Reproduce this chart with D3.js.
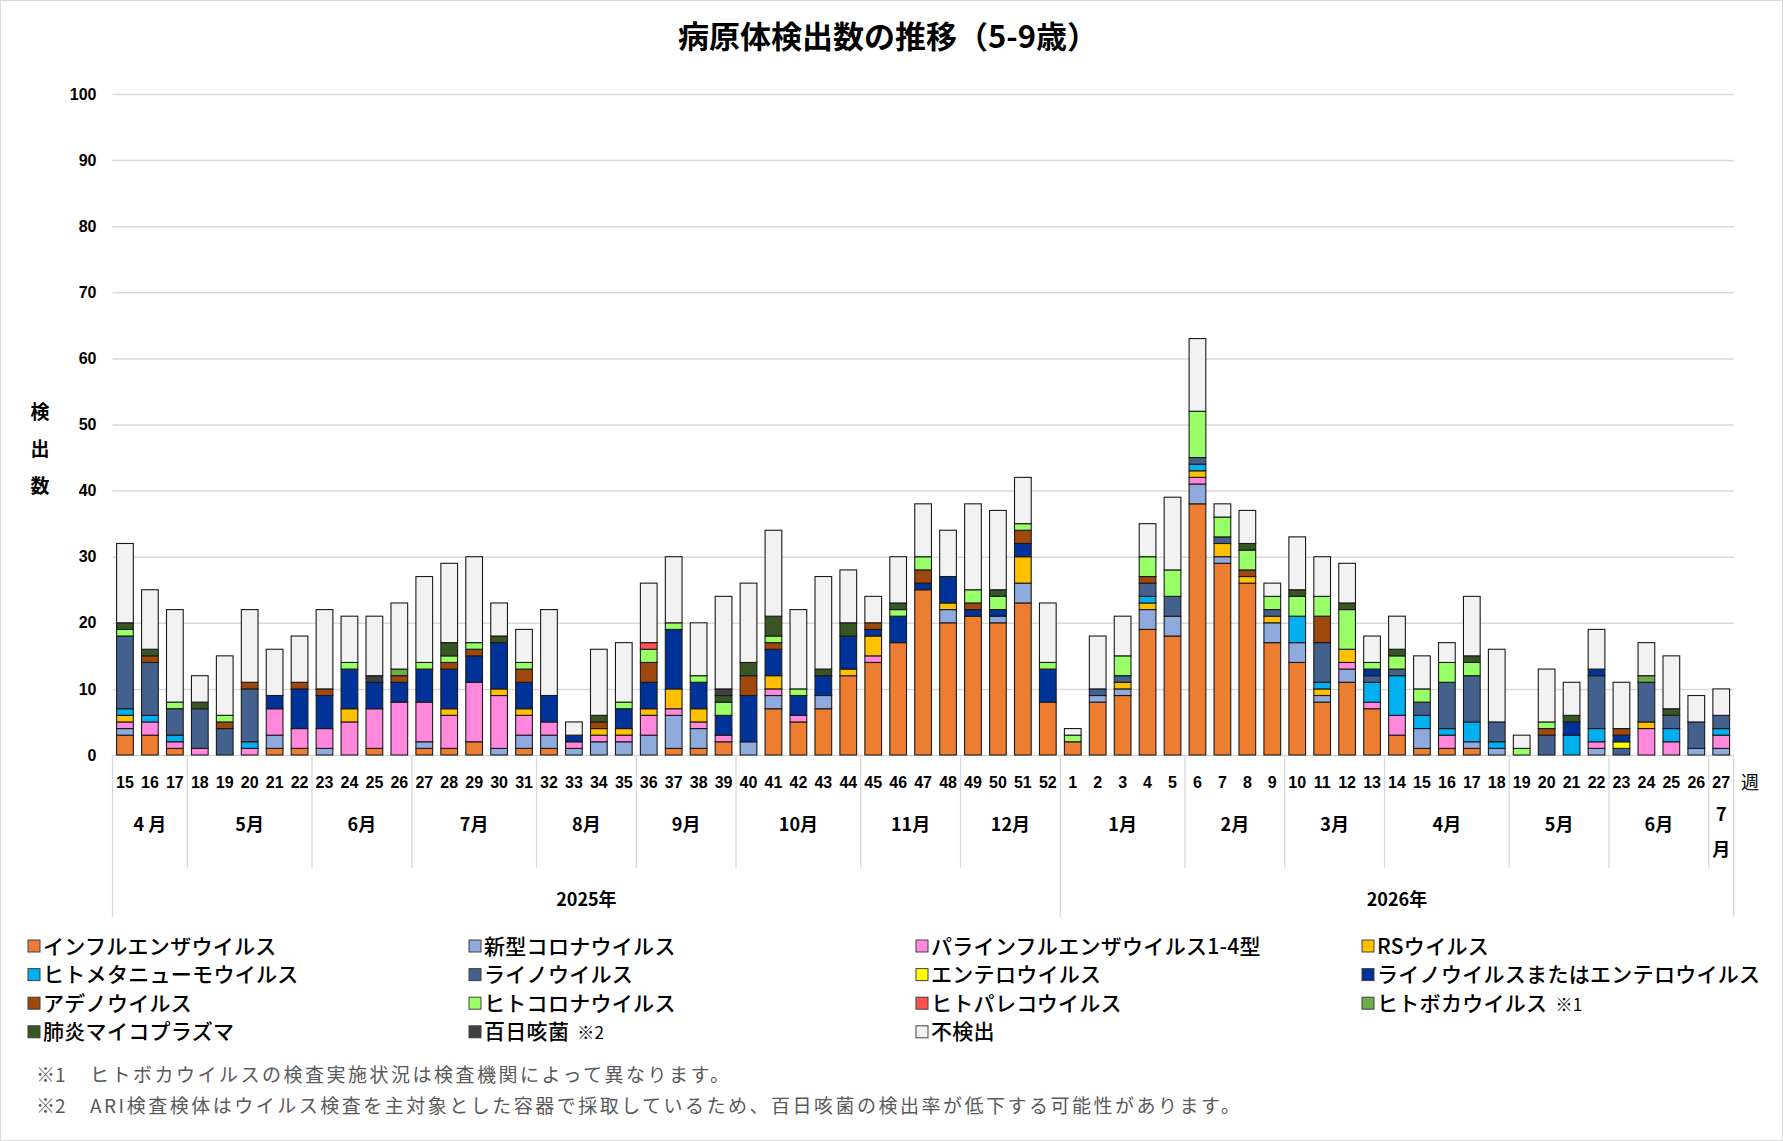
<!DOCTYPE html>
<html lang="ja">
<head>
<meta charset="utf-8">
<script src="https://cdn.jsdelivr.net/npm/d3@7/dist/d3.min.js"></script>
<style>
  body { margin: 0; background: #fff; }
  svg { display: block; font-family: "Noto Sans CJK JP", "Noto Sans", sans-serif; }
</style>
</head>
<body>
<div id="chart"></div>
<script>
// 週 (2025年 15-52週, 2026年 1-27週)
const weeks = [
    15,16,17,18,19,20,21,22,23,24,25,26,27,28,29,30,31,32,33,34,35,36,37,38,39,40,41,42,43,44,45,46,47,48,49,50,51,52,
    1,2,3,4,5,6,7,8,9,10,11,12,13,14,15,16,17,18,19,20,21,22,23,24,25,26,27
];

const monthLabels = ["4 月","5月","6月","7月","8月","9月","10月","11月","12月","1月","2月","3月","4月","5月","6月","7月"];
const monthSpans = [3,5,4,5,4,4,5,4,4, 5,4,4,5,4,4,1];
const yearLabels = ["2025年","2026年"];
const yearSpans = [38,27];
const yTicks = [0,10,20,30,40,50,60,70,80,90,100];

// series values, month groups separated by spaces
const influenza = [3,3,1, 0,0,0,1,1, 0,0,1,0, 1,1,2,0,1, 1,0,0,0, 0,1,1,2, 0,7,5,7,12, 14,17,25,20, 21,20,23,8,
    2,8,9,19,18, 38,29,26,17, 14,8,11,7, 3,1,1,1,0, 0,0,0,0, 0,0,0,0, 0];
const sarsCov2 = [1,0,0, 0,0,0,2,0, 1,0,0,0, 1,0,0,1,2, 2,1,2,2, 3,5,3,0, 2,2,0,2,0, 0,0,0,2, 0,1,3,0,
    0,1,1,3,3, 3,1,0,3, 3,1,2,0, 0,3,0,1,1, 0,0,0,1, 0,0,0,1, 1];
const parainfluenza = [1,2,1, 1,0,1,4,3, 3,5,6,8, 6,5,9,8,3, 2,1,1,1, 3,1,1,1, 0,1,1,0,0, 1,0,0,0, 0,0,0,0,
    0,0,0,0,0, 1,0,0,0, 0,0,1,1, 3,0,2,0,0, 0,0,0,1, 0,4,2,0, 2];
const rsv = [1,0,0, 0,0,0,0,0, 0,2,0,0, 0,1,0,1,1, 0,0,1,1, 1,3,2,0, 0,2,0,0,1, 3,0,0,1, 0,0,4,0,
    0,0,1,1,0, 1,2,1,1, 0,1,2,0, 0,0,0,0,0, 0,0,0,0, 0,1,0,0, 0];
const metapneumo = [1,1,1, 0,0,1,0,0, 0,0,0,0, 0,0,0,0,0, 0,0,0,0, 0,0,0,0, 0,0,0,0,0, 0,0,0,0, 0,0,0,0,
    0,0,0,1,0, 1,0,0,0, 4,1,0,3, 6,2,1,3,1, 0,0,3,2, 0,0,2,0, 1];
const rhino = [11,8,4, 6,4,8,0,0, 0,0,0,0, 0,0,0,0,0, 0,0,0,0, 0,0,0,0, 0,0,0,0,0, 0,0,0,0, 0,0,0,0,
    0,1,1,2,3, 1,1,0,1, 0,6,0,1, 1,2,7,7,3, 0,3,0,8, 1,6,2,4, 2];
const entero = [0,0,0, 0,0,0,0,0, 0,0,0,0, 0,0,0,0,0, 0,0,0,0, 0,0,0,0, 0,0,0,0,0, 0,0,0,0, 0,0,0,0,
    0,0,0,0,0, 0,0,0,0, 0,0,0,0, 0,0,0,0,0, 0,0,0,0, 1,0,0,0, 0];
const rhinoOrEntero = [0,0,0, 0,0,0,2,6, 5,6,4,3, 5,6,4,7,4, 4,1,0,3, 4,9,4,3, 7,4,3,3,5, 1,4,1,4, 1,1,2,5,
    0,0,0,0,0, 0,0,0,0, 0,0,0,1, 0,0,0,0,0, 0,0,2,1, 1,0,0,0, 0];
const adeno = [0,1,0, 0,1,1,0,1, 1,0,0,1, 0,1,1,0,2, 0,0,1,0, 3,0,0,0, 3,1,0,0,0, 1,0,2,0, 1,0,2,0,
    0,0,0,1,0, 0,0,1,0, 0,4,0,0, 0,0,0,0,0, 0,1,0,0, 1,0,0,0, 0];
const humanCorona = [1,0,1, 0,1,0,0,0, 0,1,0,0, 1,1,1,0,1, 0,0,0,1, 2,1,1,2, 0,1,1,0,0, 0,1,2,0, 2,2,1,1,
    1,0,3,3,4, 7,3,3,2, 3,3,6,1, 2,2,3,2,0, 1,1,0,0, 0,0,0,0, 0];
const parecho = [0,0,0, 0,0,0,0,0, 0,0,0,0, 0,0,0,0,0, 0,0,0,0, 1,0,0,0, 0,0,0,0,0, 0,0,0,0, 0,0,0,0,
    0,0,0,0,0, 0,0,0,0, 0,0,0,0, 0,0,0,0,0, 0,0,0,0, 0,0,0,0, 0];
const boca = [0,0,0, 0,0,0,0,0, 0,0,0,1, 0,0,0,0,0, 0,0,0,0, 0,0,0,0, 0,0,0,0,0, 0,0,0,0, 0,0,0,0,
    0,0,0,0,0, 0,0,0,0, 0,0,0,0, 0,0,0,0,0, 0,0,0,0, 0,1,0,0, 0];
const mycoplasma = [1,1,0, 1,0,0,0,0, 0,0,0,0, 0,2,0,1,0, 0,0,1,0, 0,0,0,1, 2,3,0,1,2, 0,1,0,0, 0,1,0,0,
    0,0,0,0,0, 0,0,1,0, 1,0,1,0, 1,0,0,1,0, 0,0,1,0, 0,0,1,0, 0];
const pertussis = [0,0,0, 0,0,0,0,0, 0,0,1,0, 0,0,0,0,0, 0,0,0,0, 0,0,0,1, 0,0,0,0,0, 0,0,0,0, 0,0,0,0,
    0,0,0,0,0, 0,0,0,0, 0,0,0,0, 0,0,0,0,0, 0,0,0,0, 0,0,0,0, 0];
const notDetected = [12,9,14, 4,9,11,7,7, 12,7,9,10, 13,12,13,5,5, 13,2,10,9, 9,10,8,14, 12,13,12,14,8, 4,7,8,7, 13,12,7,9,
    1,8,6,5,11, 11,2,5,2, 8,6,6,4, 5,5,3,9,11, 2,8,5,6, 7,5,8,4, 4];

const seriesNames = ["インフルエンザウイルス","新型コロナウイルス","パラインフルエンザウイルス1-4型","RSウイルス",
    "ヒトメタニューモウイルス","ライノウイルス","エンテロウイルス","ライノウイルスまたはエンテロウイルス",
    "アデノウイルス","ヒトコロナウイルス","ヒトパレコウイルス","ヒトボカウイルス",
    "肺炎マイコプラズマ","百日咳菌","不検出"];
const seriesNotes = ["","","","","","","","","","","","※1","","※2",""];
const seriesValues = [influenza, sarsCov2, parainfluenza, rsv, metapneumo, rhino, entero, rhinoOrEntero,
    adeno, humanCorona, parecho, boca, mycoplasma, pertussis, notDetected];
const colors = ["#ed7d31","#8faadc","#ff88dd","#ffc000","#00b0f0","#44618e","#ffff00","#003399",
    "#9e480e","#99ff66","#ff5050","#70ad47","#375623","#404040","#f2f2f2"];

const footnotes = [
    ["※1", "ヒトボカウイルスの検査実施状況は検査機関によって異なります。"],
    ["※2", "ARI検査検体はウイルス検査を主対象とした容器で採取しているため、百日咳菌の検出率が低下する可能性があります。"]
];

const width = 1783;
const height = 1141;
const plot = { left: 112.5, right: 1733.7, top: 94, bottom: 755 };

const rows = weeks.map((w, i) => {
    var r = { week: w };
    seriesNames.forEach((n, k) => { r[n] = seriesValues[k][i]; });
    return r;
});

var svg = d3.select("#chart")
    .append("svg")
    .attr("width", width)
    .attr("height", height)
    .attr("viewBox", [0, 0, width, height]);

svg.append("rect")
    .attr("x", 0.5).attr("y", 0.5)
    .attr("width", width - 1).attr("height", height - 1)
    .attr("fill", "#fff")
    .attr("stroke", "#d9d9d9");

var x = d3.scaleBand()
    .domain(d3.range(weeks.length))
    .range([plot.left, plot.right])
    .paddingInner(0.33)
    .paddingOuter(0.165);

var y = d3.scaleLinear()
    .domain([0, 100])
    .range([plot.bottom, plot.top]);

// y axis + gridlines
var gy = svg.append("g")
    .attr("transform", `translate(${plot.left},0)`)
    .call(d3.axisLeft(y).tickValues(yTicks).tickSize(-(plot.right - plot.left)).tickPadding(16))
    .call(g => g.select(".domain").remove());
gy.selectAll(".tick line").attr("stroke", "#d9d9d9").attr("stroke-width", 1.5);
gy.selectAll(".tick text")
    .attr("fill", "#000")
    .style("font-size", "16px")
    .style("font-weight", 700);

// bars
var stacked = d3.stack().keys(seriesNames)(rows);

svg.append("g")
    .selectAll("g")
    .data(stacked)
    .join("g")
    .attr("fill", (_, i) => colors[i])
    .selectAll("rect")
    .data(d => d.map((s, i) => ({ s: s, i: i })).filter(e => e.s[1] > e.s[0]))
    .join("rect")
    .attr("x", e => x(e.i))
    .attr("y", e => y(e.s[1]))
    .attr("width", x.bandwidth())
    .attr("height", e => y(e.s[0]) - y(e.s[1]))
    .attr("stroke", "#1a1a1a")
    .attr("stroke-width", 1.1);

// week labels
var gx = svg.append("g")
    .attr("transform", `translate(0,${plot.bottom})`)
    .call(d3.axisBottom(x).tickFormat(i => weeks[i]).tickSize(0).tickPadding(22))
    .call(g => g.select(".domain").remove());
gx.selectAll(".tick text")
    .attr("fill", "#000")
    .style("font-size", "16px")
    .style("font-weight", 700);

svg.append("text")
    .attr("x", 1750)
    .attr("y", 789)
    .attr("text-anchor", "middle")
    .style("font-size", "18px")
    .text("週");

// month / year groups below the axis
const step = x.step();
const edge = i => plot.left + i * step;
const monthBounds = [0, ...d3.cumsum(monthSpans)];
const yearBounds = [0, ...d3.cumsum(yearSpans)];

svg.append("g")
    .selectAll("line")
    .data(monthBounds)
    .join("line")
    .attr("x1", d => edge(d)).attr("x2", d => edge(d))
    .attr("y1", plot.bottom)
    .attr("y2", d => yearBounds.includes(d) ? 917 : 868)
    .attr("stroke", "#d9d9d9")
    .attr("stroke-width", 1.3);

var months = svg.append("g")
    .selectAll("text")
    .data(monthLabels)
    .join("text")
    .attr("x", (_, i) => (edge(monthBounds[i]) + edge(monthBounds[i + 1])) / 2)
    .attr("y", 831)
    .attr("text-anchor", "middle")
    .style("font-size", "18px")
    .style("font-weight", 700);

months.each(function (d, i) {
    var t = d3.select(this);
    if (monthSpans[i] > 1) {
        t.text(d);
    } else {
        // single week: stack characters vertically
        t.attr("y", 821);
        d.split("").forEach((c, k) => {
            t.append("tspan")
                .attr("x", t.attr("x"))
                .attr("dy", k == 0 ? 0 : 35)
                .text(c);
        });
    }
});

svg.append("g")
    .selectAll("text")
    .data(yearLabels)
    .join("text")
    .attr("x", (_, i) => (edge(yearBounds[i]) + edge(yearBounds[i + 1])) / 2)
    .attr("y", 906)
    .attr("text-anchor", "middle")
    .style("font-size", "18px")
    .style("font-weight", 700)
    .text(d => d);

// title and y label
svg.append("text")
    .attr("x", 888)
    .attr("y", 48)
    .attr("text-anchor", "middle")
    .style("font-size", "31px")
    .style("font-weight", 700)
    .text("病原体検出数の推移（5-9歳）");

svg.append("g")
    .selectAll("text")
    .data("検出数".split(""))
    .join("text")
    .attr("x", 40)
    .attr("y", (_, i) => 419 + i * 37)
    .attr("text-anchor", "middle")
    .style("font-size", "19px")
    .style("font-weight", 700)
    .text(d => d);

// legend
const legendX = [28, 469, 916, 1362];
var legend = svg.append("g")
    .selectAll("g")
    .data(seriesNames)
    .join("g")
    .attr("transform", (_, i) => `translate(${legendX[i % 4]},${946 + Math.floor(i / 4) * 28.6})`);

legend.append("rect")
    .attr("x", 0).attr("y", -6)
    .attr("width", 12).attr("height", 12)
    .attr("fill", (_, i) => colors[i])
    .attr("stroke", "#404040")
    .attr("stroke-width", 1);

var legendText = legend.append("text")
    .attr("x", 15)
    .attr("y", 7.5)
    .style("font-size", "21px")
    .style("font-weight", 500)
    .style("letter-spacing", "0.3px")
    .text(d => d);

legendText.filter((_, i) => seriesNotes[i] != "")
    .append("tspan")
    .attr("dx", 8)
    .style("font-size", "17px")
    .style("font-weight", 400)
    .text(function () { return seriesNotes[seriesNames.indexOf(d3.select(this.parentNode).datum())]; });

// footnotes
var notes = svg.append("g")
    .selectAll("g")
    .data(footnotes)
    .join("g")
    .attr("transform", (_, i) => `translate(0,${1082 + i * 31})`)
    .style("font-size", "19px")
    .attr("fill", "#595959");

notes.append("text").attr("x", 36).text(d => d[0]);
notes.append("text").attr("x", 90).style("letter-spacing", "2.5px").text(d => d[1]);
</script>
</body>
</html>
